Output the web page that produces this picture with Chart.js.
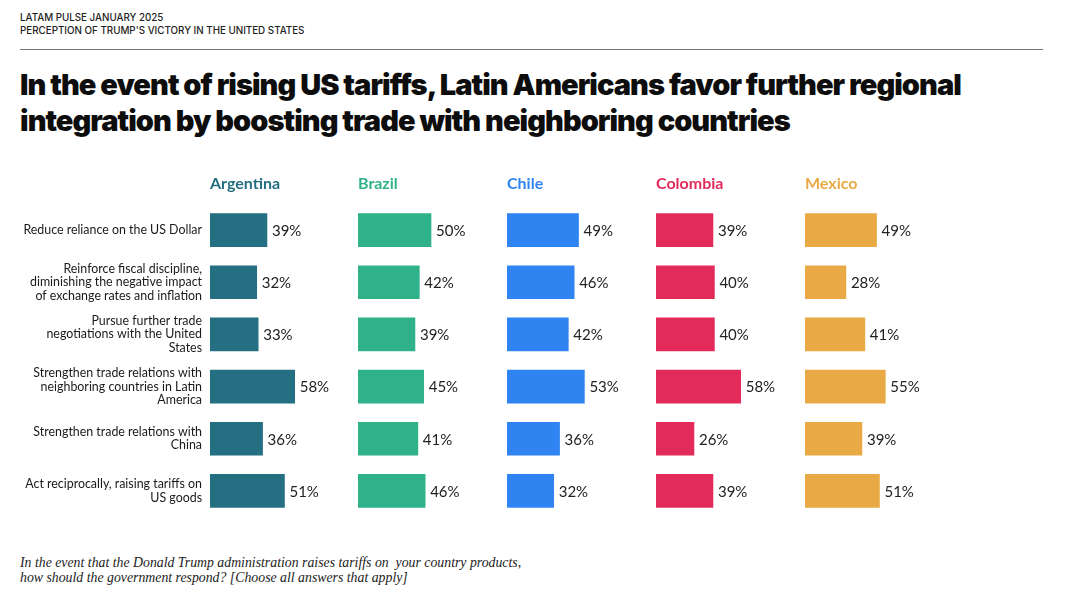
<!DOCTYPE html>
<html>
<head>
<meta charset="utf-8">
<script src="https://cdn.jsdelivr.net/npm/chart.js@4.4.1/dist/chart.umd.min.js"></script>
<style>
  body { margin: 0; background: #fff; width: 1080px; height: 605px; position: relative; overflow: hidden; font-family: Inter, sans-serif; color: #111; }
  .kicker { position: absolute; left: 20px; top: 11px; font-size: 9.8px; line-height: 13px; font-weight: 500; color: #222; }
  .rule { position: absolute; left: 20px; top: 49px; width: 1023px; height: 1px; background: #777; }
  h1 { position: absolute; left: 20px; top: 67px; margin: 0; font-size: 29px; line-height: 36px; font-weight: 900; letter-spacing: -0.95px; color: #0d0d0d; }
  .note { position: absolute; left: 20px; top: 555px; font-family: "Liberation Serif", serif; font-style: italic; font-size: 13.8px; line-height: 15px; color: #222; }
  .panel { position: absolute; top: 170px; }
</style>
</head>
<body>
<div class="kicker">LATAM PULSE JANUARY 2025<br>PERCEPTION OF TRUMP'S VICTORY IN THE UNITED STATES</div>
<div class="rule"></div>
<h1>In the event of rising US tariffs, Latin Americans favor further regional<br>integration by boosting trade with neighboring countries</h1>

<div class="panel" style="left:0px"><canvas id="c0" width="356" height="347"></canvas></div>
<div class="panel" style="left:358px"><canvas id="c1" width="146" height="347"></canvas></div>
<div class="panel" style="left:507px"><canvas id="c2" width="146" height="347"></canvas></div>
<div class="panel" style="left:656px"><canvas id="c3" width="146" height="347"></canvas></div>
<div class="panel" style="left:805px"><canvas id="c4" width="146" height="347"></canvas></div>

<div class="note">In the event that the Donald Trump administration raises tariffs on &nbsp;your country products,<br>how should the government respond? [Choose all answers that apply]</div>

<script>
// answer options (y axis)
const categories = [
    "Reduce reliance on the US Dollar",
    ["Reinforce fiscal discipline,", "diminishing the negative impact", "of exchange rates and inflation"],
    ["Pursue further trade", "negotiations with the United", "States"],
    ["Strengthen trade relations with", "neighboring countries in Latin", "America"],
    ["Strengthen trade relations with", "China"],
    ["Act reciprocally, raising tariffs on", "US goods"]
];

const countries = ["Argentina", "Brazil", "Chile", "Colombia", "Mexico"];

// % of respondents per country
const argentina = [39, 32, 33, 58, 36, 51];
const brazil    = [50, 42, 39, 45, 41, 46];
const chile     = [49, 46, 42, 53, 36, 32];
const colombia  = [39, 40, 40, 58, 26, 39];
const mexico    = [49, 28, 41, 55, 39, 51];

const seriesValues = [argentina, brazil, chile, colombia, mexico];
const colors = ["#246f81", "#2fb28a", "#2f84f2", "#e32b5b", "#e9aa45"];

// draws "39%" just right of each bar
const valueLabels = {
    id: "valueLabels",
    afterDatasetsDraw(chart) {
        const ctx = chart.ctx;
        ctx.save();
        ctx.font = "15px Lato";
        ctx.fillStyle = "#222";
        ctx.textBaseline = "middle";
        chart.getDatasetMeta(0).data.forEach(function (bar, i) {
            ctx.fillText(chart.data.datasets[0].data[i] + "%", bar.x + 5, bar.y + 1);
        });
        ctx.restore();
    }
};

countries.forEach(function (country, idx) {
    const ctx = document.getElementById("c" + idx).getContext("2d");
    new Chart(ctx, {
        type: "bar",
        data: {
            labels: categories,
            datasets: [{
                data: seriesValues[idx],
                backgroundColor: colors[idx],
                barThickness: 33
            }]
        },
        options: {
            indexAxis: "y",
            responsive: false,
            animation: false,
            events: [],
            plugins: {
                legend: { display: false },
                tooltip: { enabled: false }
            },
            scales: {
                x: {
                    position: "top",
                    min: 0,
                    max: 100,
                    grid: { display: false, drawTicks: false },
                    border: { display: false },
                    ticks: { display: false },
                    title: {
                        display: true,
                        text: country,
                        align: "start",
                        color: colors[idx],
                        font: { family: "Lato", size: 16, weight: "bold" },
                        padding: { top: 4, bottom: 4 }
                    },
                    afterFit: function (scale) { scale.height = 34; }
                },
                y: {
                    display: idx === 0,
                    grid: { display: false, drawTicks: false },
                    border: { display: false },
                    ticks: {
                        autoSkip: false,
                        padding: 8,
                        color: "#1a1a1a",
                        font: { family: "Lato", size: 12.4, lineHeight: 1.07 }
                    },
                    afterFit: function (scale) {
                        if (idx === 0) scale.width = 210;
                        // keep the bars on the same rows as the other panels
                        scale.paddingTop = 0;
                        scale.paddingBottom = 0;
                    }
                }
            }
        },
        plugins: [valueLabels]
    });
});
</script>
</body>
</html>
